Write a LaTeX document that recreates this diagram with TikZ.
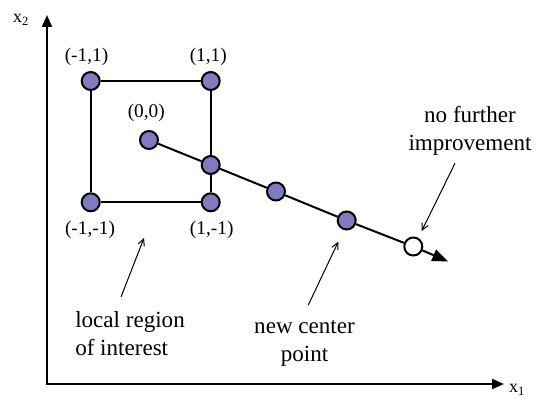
\documentclass[tikz,border=0pt]{standalone}
\usepackage{fontspec}
\setmainfont{Liberation Serif}
\usetikzlibrary{arrows.meta}
\definecolor{ptblue}{RGB}{128,122,190}

\begin{document}
\begin{tikzpicture}[x=0.75pt, y=-0.75pt,
		pt/.style={circle, draw, line width=1.5pt, fill=ptblue, minimum size=13.5pt, inner sep=0pt},
		ptopen/.style={pt, fill=white},
		axis/.style={line width=1.5pt, {Triangle[length=9pt, width=7.5pt]}-{Triangle[length=9pt, width=7.5pt]}},
		edge/.style={line width=1.5pt},
		pathline/.style={line width=1.5pt},
		note/.style={->, line width=0.75pt, -{Straight Barb[length=5pt, width=5pt]}},
		coordlab/.style={font=\fontsize{14.5}{17}\selectfont, inner sep=0pt},
		axlab/.style={font=\fontsize{13.5}{16}\selectfont, inner sep=0pt},
		txt/.style={font=\fontsize{17.3}{21}\selectfont, inner sep=0pt}
		]
		\useasboundingbox (0,0) rectangle (536,403);
		
		% --- Axes ---
		\coordinate (O) at (47,384);
		\coordinate (ytop) at (47,15);
		\coordinate (xtip) at (504,384);
		\draw[axis] (ytop) -- (O) -- (xtip);
		\node[axlab] (x2) at (21,20) {x\textsubscript{2}};
		\node[axlab] (x1) at (517,390) {x\textsubscript{1}};
		
		% --- Local region corners ---
		\node[pt] (m11) at (90.7,81) {};
		\node[pt] (p11) at (210.7,81) {};
		\node[pt] (m1m1) at (90.7,202.3) {};
		\node[pt] (p1m1) at (210.7,202.3) {};
		
		% --- Search direction points ---
		\node[pt] (c00) at (149,140) {};
		\node[pt] (s1) at (210.7,165) {};
		\node[pt] (s2) at (276,191.5) {};
		\node[pt] (s3) at (346.7,220.5) {};
		\node[ptopen] (stop) at (413.3,246.5) {};
		\coordinate (tip) at (448.3,261.5);
		
		\draw[edge] (m11) -- (p11) -- (s1) -- (p1m1) -- (m1m1) -- (m11);
		\draw[pathline] (c00) -- (s1) -- (s2) -- (s3) -- (stop);
		\draw[pathline, -{Triangle[length=12pt, width=9pt]}] (stop) -- (tip);
		
		% --- Corner labels ---
		\node[coordlab] (lm11) at (86.5,56.5) {(-1,1)};
		\node[coordlab] (lp11) at (208.3,56.5) {(1,1)};
		\node[coordlab] (lc00) at (146.3,113.3) {(0,0)};
		\node[coordlab] (lm1m1) at (90,230) {(-1,-1)};
		\node[coordlab] (lp1m1) at (211.7,230) {(1,-1)};
		
		% --- Notes ---
		\node[txt, align=left, anchor=west] (region) at (75,333.8) {local region\\of interest};
		\node[txt, align=center] (center) at (304.5,343.4) {new center\\point};
		\node[txt, align=center] (further) at (470,130.5) {no further\\improvement};
		
		\coordinate (a1s) at (121,297);
		\coordinate (a1e) at (144,238);
		\coordinate (a2s) at (308.3,305);
		\coordinate (a2e) at (338.3,241.7);
		\coordinate (a3s) at (455,163.3);
		\coordinate (a3e) at (421.7,231);
		\draw[note] (a1s) -- (a1e);
		\draw[note] (a2s) -- (a2e);
		\draw[note] (a3s) -- (a3e);
		
	\end{tikzpicture}
\end{document}
